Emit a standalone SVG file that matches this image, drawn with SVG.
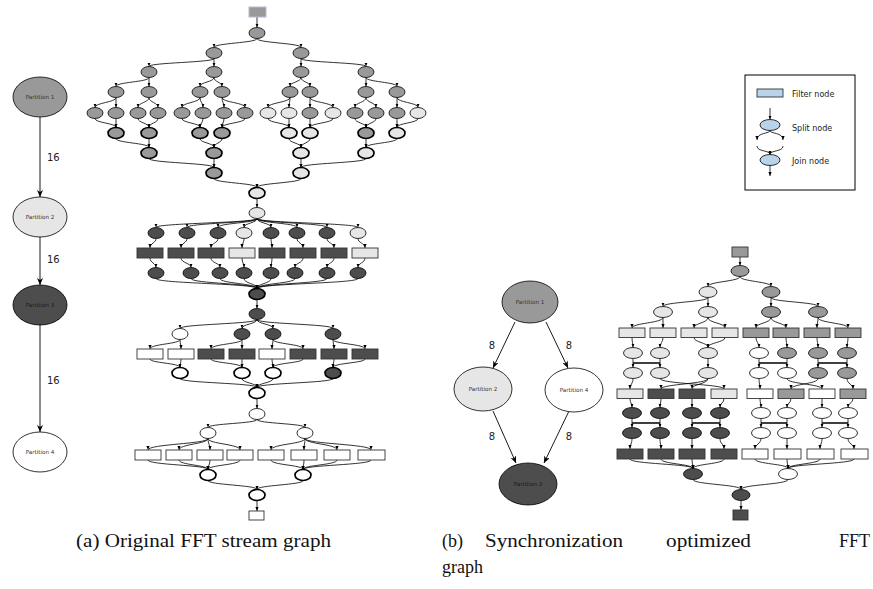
<svg xmlns="http://www.w3.org/2000/svg" width="873" height="589" viewBox="0 0 873 589">
<style>
.g{fill:#999}.l{fill:#e6e6e6}.d{fill:#4d4d4d}.w{fill:#fff}.b{fill:#b9d3ea}
ellipse{stroke:#000;stroke-width:0.8}
.t{stroke-width:1.7}
rect.f{stroke:#333;stroke-width:0.9}
.e path{fill:none;stroke:#000;stroke-width:0.8;marker-end:url(#ar)}
.bar{fill:none;stroke:#000;stroke-width:1.3}
.pe{fill:none;stroke:#000;stroke-width:0.9;marker-end:url(#pa)}
.pt{font-family:"DejaVu Sans",sans-serif;font-size:5.6px;fill:#333;text-anchor:middle}
.pd{fill:#1a1a1a}
.lab{font-family:"DejaVu Sans",sans-serif;font-size:10px;fill:#222}
.lg{font-family:"DejaVu Sans",sans-serif;font-size:8px;fill:#222}
.cap{font-family:"Liberation Serif","DejaVu Serif",serif;font-size:18px;fill:#111}
</style>
<defs>
<marker id="ar" markerUnits="userSpaceOnUse" markerWidth="4" markerHeight="4" viewBox="0 0 4 4" refX="4" refY="2" orient="auto"><path d="M0,0.4L4,2L0,3.6z" fill="#000"/></marker>
<marker id="pa" markerUnits="userSpaceOnUse" markerWidth="7" markerHeight="6" viewBox="0 0 7 6" refX="7" refY="3" orient="auto"><path d="M0,0L7,3L0,6L2,3z" fill="#000"/></marker>
</defs>

<!-- Partition graph (a) -->
<g id="pa-edges">
<path class="pe" d="M40 117V197"/>
<path class="pe" d="M40 237V285"/>
<path class="pe" d="M40 325V432"/>
<text class="lab" x="47" y="161">16</text>
<text class="lab" x="47" y="263">16</text>
<text class="lab" x="47" y="384">16</text>
</g>
<g id="pa-p1"><ellipse class="g" cx="40" cy="97" rx="27" ry="20"/><text class="pt" x="40" y="99">Partition 1</text></g>
<g id="pa-p2"><ellipse class="l" cx="40" cy="217" rx="27" ry="20"/><text class="pt" x="40" y="219">Partition 2</text></g>
<g id="pa-p3"><ellipse class="d" cx="40" cy="305" rx="27" ry="20"/><text class="pt pd" x="40" y="307">Partition 3</text></g>
<g id="pa-p4"><ellipse class="w" cx="40" cy="452" rx="27" ry="20"/><text class="pt" x="40" y="454">Partition 4</text></g>

<!-- Stream graph (a) connectors -->
<g id="a-edges" class="e">
<path d="M257 17V27.5"/>
<path d="M257 38.5C257 43 214 43 214 47.5"/>
<path d="M257 38.5C257 43 301 43 301 47.5"/>
<path d="M214 58.5C214 62.5 149 62.5 149 66.5"/>
<path d="M214 58.5V66.5"/>
<path d="M301 58.5V66.5"/>
<path d="M301 58.5C301 62.5 366 62.5 366 66.5"/>
<path d="M149 77.5C149 82 116 82 116 86.5"/>
<path d="M149 77.5V86.5"/>
<path d="M214 77.5C214 82 200 82 200 86.5"/>
<path d="M214 77.5C214 82 222 82 222 86.5"/>
<path d="M301 77.5C301 82 290 82 290 86.5"/>
<path d="M301 77.5C301 82 310 82 310 86.5"/>
<path d="M366 77.5V86.5"/>
<path d="M366 77.5C366 82 397 82 397 86.5"/>
<path d="M116 97.5C116 102.5 95 102.5 95 107.5"/>
<path d="M116 97.5V107.5"/>
<path d="M149 97.5C149 102.5 138 102.5 138 107.5"/>
<path d="M149 97.5C149 102.5 158 102.5 158 107.5"/>
<path d="M200 97.5C200 102.5 182 102.5 182 107.5"/>
<path d="M200 97.5C200 102.5 203 102.5 203 107.5"/>
<path d="M222 97.5C222 102.5 224 102.5 224 107.5"/>
<path d="M222 97.5C222 102.5 245 102.5 245 107.5"/>
<path d="M290 97.5C290 102.5 268 102.5 268 107.5"/>
<path d="M290 97.5C290 102.5 289 102.5 289 107.5"/>
<path d="M310 97.5V107.5"/>
<path d="M310 97.5C310 102.5 333 102.5 333 107.5"/>
<path d="M366 97.5C366 102.5 355 102.5 355 107.5"/>
<path d="M366 97.5C366 102.5 376 102.5 376 107.5"/>
<path d="M397 97.5V107.5"/>
<path d="M397 97.5C397 102.5 418 102.5 418 107.5"/>
<path d="M95 118.5C95 123 116 123 116 127.5"/>
<path d="M116 118.5V127.5"/>
<path d="M138 118.5C138 123 149 123 149 127.5"/>
<path d="M158 118.5C158 123 149 123 149 127.5"/>
<path d="M182 118.5C182 123 200 123 200 127.5"/>
<path d="M203 118.5C203 123 200 123 200 127.5"/>
<path d="M224 118.5C224 123 222 123 222 127.5"/>
<path d="M245 118.5C245 123 222 123 222 127.5"/>
<path d="M268 118.5C268 123 289 123 289 127.5"/>
<path d="M289 118.5V127.5"/>
<path d="M310 118.5V127.5"/>
<path d="M333 118.5C333 123 310 123 310 127.5"/>
<path d="M355 118.5C355 123 366 123 366 127.5"/>
<path d="M376 118.5C376 123 366 123 366 127.5"/>
<path d="M397 118.5V127.5"/>
<path d="M418 118.5C418 123 397 123 397 127.5"/>
<path d="M116 138.5C116 143 149 143 149 147.5"/>
<path d="M149 138.5V147.5"/>
<path d="M200 138.5C200 143 214 143 214 147.5"/>
<path d="M222 138.5C222 143 214 143 214 147.5"/>
<path d="M289 138.5C289 143 301 143 301 147.5"/>
<path d="M310 138.5C310 143 301 143 301 147.5"/>
<path d="M366 138.5V147.5"/>
<path d="M397 138.5C397 143 366 143 366 147.5"/>
<path d="M149 158.5C149 163 214 163 214 167.5"/>
<path d="M214 158.5V167.5"/>
<path d="M301 158.5V167.5"/>
<path d="M366 158.5C366 163 301 163 301 167.5"/>
<path d="M214 178.5C214 183 257 183 257 187.5"/>
<path d="M301 178.5C301 183 257 183 257 187.5"/>
<path d="M257 198.5V207.5"/>
<path d="M257 218.5C257 223 156 223 156 227.5"/>
<path d="M257 218.5C257 223 187 223 187 227.5"/>
<path d="M257 218.5C257 223 218 223 218 227.5"/>
<path d="M257 218.5C257 223 244 223 244 227.5"/>
<path d="M257 218.5C257 223 271 223 271 227.5"/>
<path d="M257 218.5C257 223 297 223 297 227.5"/>
<path d="M257 218.5C257 223 327 223 327 227.5"/>
<path d="M257 218.5C257 223 358 223 358 227.5"/>
<path d="M156 238.5C156 243 150 243 150 248"/>
<path d="M187 238.5C187 243 181 243 181 248"/>
<path d="M218 238.5C218 243 211 243 211 248"/>
<path d="M244 238.5C244 243 242 243 242 248"/>
<path d="M271 238.5C271 243 272 243 272 248"/>
<path d="M297 238.5C297 243 303 243 303 248"/>
<path d="M327 238.5C327 243 334 243 334 248"/>
<path d="M358 238.5C358 243 365 243 365 248"/>
<path d="M150 258C150 263 156 263 156 267.5"/>
<path d="M181 258C181 263 191 263 191 267.5"/>
<path d="M211 258C211 263 220 263 220 267.5"/>
<path d="M242 258C242 263 244 263 244 267.5"/>
<path d="M272 258C272 263 271 263 271 267.5"/>
<path d="M303 258C303 263 295 263 295 267.5"/>
<path d="M334 258C334 263 327 263 327 267.5"/>
<path d="M365 258C365 263 358 263 358 267.5"/>
<path d="M156 278.5C156 283.5 257 283.5 257 288.5"/>
<path d="M191 278.5C191 283.5 257 283.5 257 288.5"/>
<path d="M220 278.5C220 283.5 257 283.5 257 288.5"/>
<path d="M244 278.5C244 283.5 257 283.5 257 288.5"/>
<path d="M271 278.5C271 283.5 257 283.5 257 288.5"/>
<path d="M295 278.5C295 283.5 257 283.5 257 288.5"/>
<path d="M327 278.5C327 283.5 257 283.5 257 288.5"/>
<path d="M358 278.5C358 283.5 257 283.5 257 288.5"/>
<path d="M257 299.5V308.5"/>
<path d="M257 319.5C257 324 180 324 180 328.5"/>
<path d="M257 319.5C257 324 242 324 242 328.5"/>
<path d="M257 319.5C257 324 273 324 273 328.5"/>
<path d="M257 319.5C257 324 333 324 333 328.5"/>
<path d="M180 339.5C180 344 150 344 150 349"/>
<path d="M180 339.5C180 344 181 344 181 349"/>
<path d="M242 339.5C242 344 211 344 211 349"/>
<path d="M242 339.5V349"/>
<path d="M273 339.5C273 344 272 344 272 349"/>
<path d="M273 339.5C273 344 303 344 303 349"/>
<path d="M333 339.5C333 344 334 344 334 349"/>
<path d="M333 339.5C333 344 365 344 365 349"/>
<path d="M150 359C150 363 180 363 180 367.5"/>
<path d="M181 359C181 363 180 363 180 367.5"/>
<path d="M211 359C211 363 242 363 242 367.5"/>
<path d="M242 359V367.5"/>
<path d="M272 359C272 363 273 363 273 367.5"/>
<path d="M303 359C303 363 273 363 273 367.5"/>
<path d="M334 359C334 363 333 363 333 367.5"/>
<path d="M365 359C365 363 333 363 333 367.5"/>
<path d="M180 378.5C180 383 257 383 257 387.5"/>
<path d="M242 378.5C242 383 257 383 257 387.5"/>
<path d="M273 378.5C273 383 257 383 257 387.5"/>
<path d="M333 378.5C333 383 257 383 257 387.5"/>
<path d="M257 398.5V408.5"/>
<path d="M257 419.5C257 423.5 208 423.5 208 427.5"/>
<path d="M257 419.5C257 423.5 305 423.5 305 427.5"/>
<path d="M208 438.5C208 444 148 444 148 450"/>
<path d="M208 438.5C208 444 179 444 179 450"/>
<path d="M208 438.5C208 444 210 444 210 450"/>
<path d="M208 438.5C208 444 240 444 240 450"/>
<path d="M305 438.5C305 444 271 444 271 450"/>
<path d="M305 438.5C305 444 304 444 304 450"/>
<path d="M305 438.5C305 444 337 444 337 450"/>
<path d="M305 438.5C305 444 371 444 371 450"/>
<path d="M148 460C148 465 208 465 208 469.5"/>
<path d="M179 460C179 465 208 465 208 469.5"/>
<path d="M210 460C210 465 208 465 208 469.5"/>
<path d="M240 460C240 465 208 465 208 469.5"/>
<path d="M271 460C271 465 303 465 303 469.5"/>
<path d="M304 460C304 465 303 465 303 469.5"/>
<path d="M337 460C337 465 303 465 303 469.5"/>
<path d="M371 460C371 465 303 465 303 469.5"/>
<path d="M208 480.5C208 485 257 485 257 489.5"/>
<path d="M303 480.5C303 485 257 485 257 489.5"/>
<path d="M257 500.5V511"/>
</g>

<!-- Stream graph (a) nodes -->
<g id="a-src"><rect x="249" y="7" width="17" height="10" fill="#999" stroke="#c6b2d8" stroke-width="1"/></g>
<g id="a-s0"><ellipse class="g" cx="257" cy="33" rx="8" ry="5.5"/></g>
<g id="a-s1a"><ellipse class="g" cx="214" cy="53" rx="8" ry="5.5"/></g>
<g id="a-s1b"><ellipse class="g" cx="301" cy="53" rx="8" ry="5.5"/></g>
<g id="a-s2a"><ellipse class="g" cx="149" cy="72" rx="8" ry="5.5"/></g>
<g id="a-s2b"><ellipse class="g" cx="214" cy="72" rx="8" ry="5.5"/></g>
<g id="a-s2c"><ellipse class="g" cx="301" cy="72" rx="8" ry="5.5"/></g>
<g id="a-s2d"><ellipse class="g" cx="366" cy="72" rx="8" ry="5.5"/></g>
<g id="a-s3a"><ellipse class="g" cx="116" cy="92" rx="8" ry="5.5"/></g>
<g id="a-s3b"><ellipse class="g" cx="149" cy="92" rx="8" ry="5.5"/></g>
<g id="a-s3c"><ellipse class="g" cx="200" cy="92" rx="8" ry="5.5"/></g>
<g id="a-s3d"><ellipse class="g" cx="222" cy="92" rx="8" ry="5.5"/></g>
<g id="a-s3e"><ellipse class="g" cx="290" cy="92" rx="8" ry="5.5"/></g>
<g id="a-s3f"><ellipse class="g" cx="310" cy="92" rx="8" ry="5.5"/></g>
<g id="a-s3g"><ellipse class="g" cx="366" cy="92" rx="8" ry="5.5"/></g>
<g id="a-s3h"><ellipse class="g" cx="397" cy="92" rx="8" ry="5.5"/></g>
<g id="a-f4a"><ellipse class="g" cx="95" cy="113" rx="8" ry="5.5"/></g>
<g id="a-f4b"><ellipse class="g" cx="116" cy="113" rx="8" ry="5.5"/></g>
<g id="a-f4c"><ellipse class="g" cx="138" cy="113" rx="8" ry="5.5"/></g>
<g id="a-f4d"><ellipse class="g" cx="158" cy="113" rx="8" ry="5.5"/></g>
<g id="a-f4e"><ellipse class="g" cx="182" cy="113" rx="8" ry="5.5"/></g>
<g id="a-f4f"><ellipse class="g" cx="203" cy="113" rx="8" ry="5.5"/></g>
<g id="a-f4g"><ellipse class="g" cx="224" cy="113" rx="8" ry="5.5"/></g>
<g id="a-f4h"><ellipse class="g" cx="245" cy="113" rx="8" ry="5.5"/></g>
<g id="a-f4i"><ellipse class="l" cx="268" cy="113" rx="8" ry="5.5"/></g>
<g id="a-f4j"><ellipse class="l" cx="289" cy="113" rx="8" ry="5.5"/></g>
<g id="a-f4k"><ellipse class="g" cx="310" cy="113" rx="8" ry="5.5"/></g>
<g id="a-f4l"><ellipse class="l" cx="333" cy="113" rx="8" ry="5.5"/></g>
<g id="a-f4m"><ellipse class="g" cx="355" cy="113" rx="8" ry="5.5"/></g>
<g id="a-f4n"><ellipse class="g" cx="376" cy="113" rx="8" ry="5.5"/></g>
<g id="a-f4o"><ellipse class="g" cx="397" cy="113" rx="8" ry="5.5"/></g>
<g id="a-f4p"><ellipse class="l" cx="418" cy="113" rx="8" ry="5.5"/></g>
<g id="a-j5a"><ellipse class="g t" cx="116" cy="133" rx="8" ry="5.5"/></g>
<g id="a-j5b"><ellipse class="g t" cx="149" cy="133" rx="8" ry="5.5"/></g>
<g id="a-j5c"><ellipse class="g t" cx="200" cy="133" rx="8" ry="5.5"/></g>
<g id="a-j5d"><ellipse class="g t" cx="222" cy="133" rx="8" ry="5.5"/></g>
<g id="a-j5e"><ellipse class="l t" cx="289" cy="133" rx="8" ry="5.5"/></g>
<g id="a-j5f"><ellipse class="l t" cx="310" cy="133" rx="8" ry="5.5"/></g>
<g id="a-j5g"><ellipse class="g t" cx="366" cy="133" rx="8" ry="5.5"/></g>
<g id="a-j5h"><ellipse class="l t" cx="397" cy="133" rx="8" ry="5.5"/></g>
<g id="a-j6a"><ellipse class="g t" cx="149" cy="153" rx="8" ry="5.5"/></g>
<g id="a-j6b"><ellipse class="g t" cx="214" cy="153" rx="8" ry="5.5"/></g>
<g id="a-j6c"><ellipse class="l t" cx="301" cy="153" rx="8" ry="5.5"/></g>
<g id="a-j6d"><ellipse class="l t" cx="366" cy="153" rx="8" ry="5.5"/></g>
<g id="a-j7a"><ellipse class="g t" cx="214" cy="173" rx="8" ry="5.5"/></g>
<g id="a-j7b"><ellipse class="l t" cx="301" cy="173" rx="8" ry="5.5"/></g>
<g id="a-j8"><ellipse class="l t" cx="257" cy="193" rx="8" ry="5.5"/></g>
<g id="a-s9"><ellipse class="l" cx="257" cy="213" rx="8" ry="5.5"/></g>
<g id="a-e1a"><ellipse class="d" cx="156" cy="233" rx="8" ry="5.5"/></g>
<g id="a-e1b"><ellipse class="d" cx="187" cy="233" rx="8" ry="5.5"/></g>
<g id="a-e1c"><ellipse class="d" cx="218" cy="233" rx="8" ry="5.5"/></g>
<g id="a-e1d"><ellipse class="l" cx="244" cy="233" rx="8" ry="5.5"/></g>
<g id="a-e1e"><ellipse class="d" cx="271" cy="233" rx="8" ry="5.5"/></g>
<g id="a-e1f"><ellipse class="d" cx="297" cy="233" rx="8" ry="5.5"/></g>
<g id="a-e1g"><ellipse class="d" cx="327" cy="233" rx="8" ry="5.5"/></g>
<g id="a-e1h"><ellipse class="l" cx="358" cy="233" rx="8" ry="5.5"/></g>
<g id="a-r1a"><rect class="f d" x="137" y="248" width="26" height="10"/></g>
<g id="a-r1b"><rect class="f d" x="168" y="248" width="26" height="10"/></g>
<g id="a-r1c"><rect class="f d" x="198" y="248" width="26" height="10"/></g>
<g id="a-r1d"><rect class="f l" x="229" y="248" width="26" height="10"/></g>
<g id="a-r1e"><rect class="f d" x="259" y="248" width="26" height="10"/></g>
<g id="a-r1f"><rect class="f d" x="290" y="248" width="26" height="10"/></g>
<g id="a-r1g"><rect class="f d" x="321" y="248" width="26" height="10"/></g>
<g id="a-r1h"><rect class="f l" x="352" y="248" width="26" height="10"/></g>
<g id="a-e2a"><ellipse class="d" cx="156" cy="273" rx="8" ry="5.5"/></g>
<g id="a-e2b"><ellipse class="d" cx="191" cy="273" rx="8" ry="5.5"/></g>
<g id="a-e2c"><ellipse class="d" cx="220" cy="273" rx="8" ry="5.5"/></g>
<g id="a-e2d"><ellipse class="d" cx="244" cy="273" rx="8" ry="5.5"/></g>
<g id="a-e2e"><ellipse class="d" cx="271" cy="273" rx="8" ry="5.5"/></g>
<g id="a-e2f"><ellipse class="d" cx="295" cy="273" rx="8" ry="5.5"/></g>
<g id="a-e2g"><ellipse class="d" cx="327" cy="273" rx="8" ry="5.5"/></g>
<g id="a-e2h"><ellipse class="d" cx="358" cy="273" rx="8" ry="5.5"/></g>
<g id="a-j10"><ellipse class="d t" cx="257" cy="294" rx="8" ry="5.5"/></g>
<g id="a-s11"><ellipse class="d" cx="257" cy="314" rx="8" ry="5.5"/></g>
<g id="a-f1"><ellipse class="w" cx="180" cy="334" rx="8" ry="5.5"/></g>
<g id="a-f2"><ellipse class="d" cx="242" cy="334" rx="8" ry="5.5"/></g>
<g id="a-f3"><ellipse class="d" cx="273" cy="334" rx="8" ry="5.5"/></g>
<g id="a-f4"><ellipse class="d" cx="333" cy="334" rx="8" ry="5.5"/></g>
<g id="a-r2a"><rect class="f w" x="137" y="349" width="26" height="10"/></g>
<g id="a-r2b"><rect class="f w" x="168" y="349" width="26" height="10"/></g>
<g id="a-r2c"><rect class="f d" x="198" y="349" width="26" height="10"/></g>
<g id="a-r2d"><rect class="f d" x="229" y="349" width="26" height="10"/></g>
<g id="a-r2e"><rect class="f w" x="259" y="349" width="26" height="10"/></g>
<g id="a-r2f"><rect class="f d" x="290" y="349" width="26" height="10"/></g>
<g id="a-r2g"><rect class="f d" x="321" y="349" width="26" height="10"/></g>
<g id="a-r2h"><rect class="f d" x="352" y="349" width="26" height="10"/></g>
<g id="a-g1"><ellipse class="w t" cx="180" cy="373" rx="8" ry="5.5"/></g>
<g id="a-g2"><ellipse class="w t" cx="242" cy="373" rx="8" ry="5.5"/></g>
<g id="a-g3"><ellipse class="w t" cx="273" cy="373" rx="8" ry="5.5"/></g>
<g id="a-g4"><ellipse class="d t" cx="333" cy="373" rx="8" ry="5.5"/></g>
<g id="a-j12"><ellipse class="w t" cx="257" cy="393" rx="8" ry="5.5"/></g>
<g id="a-s13"><ellipse class="w" cx="257" cy="414" rx="8" ry="5.5"/></g>
<g id="a-h1"><ellipse class="w" cx="208" cy="433" rx="8" ry="5.5"/></g>
<g id="a-h2"><ellipse class="w" cx="305" cy="433" rx="8" ry="5.5"/></g>
<g id="a-r3a"><rect class="f w" x="135" y="450" width="26" height="10"/></g>
<g id="a-r3b"><rect class="f w" x="166" y="450" width="26" height="10"/></g>
<g id="a-r3c"><rect class="f w" x="197" y="450" width="26" height="10"/></g>
<g id="a-r3d"><rect class="f w" x="227" y="450" width="26" height="10"/></g>
<g id="a-r3e"><rect class="f w" x="258" y="450" width="26" height="10"/></g>
<g id="a-r3f"><rect class="f w" x="291" y="450" width="26" height="10"/></g>
<g id="a-r3g"><rect class="f w" x="324" y="450" width="26" height="10"/></g>
<g id="a-r3h"><rect class="f w" x="358" y="450" width="27" height="10"/></g>
<g id="a-k1"><ellipse class="w t" cx="208" cy="475" rx="8" ry="5.5"/></g>
<g id="a-k2"><ellipse class="w t" cx="303" cy="475" rx="8" ry="5.5"/></g>
<g id="a-j14"><ellipse class="w t" cx="257" cy="495" rx="8" ry="5.5"/></g>
<g id="a-sink"><rect class="f w" x="249" y="511" width="15" height="9"/></g>

<!-- Legend -->
<g id="legend">
<rect x="745" y="75" width="110" height="115" fill="#fff" stroke="#000" stroke-width="1"/>
<rect class="b" x="757" y="89" width="26" height="8" stroke="#333" stroke-width="0.9"/>
<text class="lg" x="792" y="97">Filter node</text>
<g class="e">
<path d="M770 108V119.5"/>
<path d="M770 130.5C770 134 757 132 757 140"/>
<path d="M770 130.5C770 134 783 132 783 140"/>
<path d="M757 146C757 152 770 150 770 154.5"/>
<path d="M783 146C783 152 770 150 770 154.5"/>
<path d="M770 165.5V176"/>
</g>
<ellipse class="b" cx="770" cy="125" rx="10" ry="5.5"/>
<text class="lg" x="792" y="131">Split node</text>
<ellipse class="b" cx="770" cy="160" rx="10" ry="5.5"/>
<text class="lg" x="792" y="164">Join node</text>
</g>

<!-- Partition graph (b) -->
<g id="pb-edges">
<path class="pe" d="M515 322L493 368"/>
<path class="pe" d="M546 322L568 368"/>
<path class="pe" d="M493 411L516 463"/>
<path class="pe" d="M569 411L544 463"/>
<text class="lab" x="492" y="349" text-anchor="middle">8</text>
<text class="lab" x="569" y="349" text-anchor="middle">8</text>
<text class="lab" x="492" y="440" text-anchor="middle">8</text>
<text class="lab" x="569" y="440" text-anchor="middle">8</text>
</g>
<g id="pb-p1"><ellipse class="g" cx="530" cy="302" rx="28" ry="21"/><text class="pt" x="530" y="304">Partition 1</text></g>
<g id="pb-p2"><ellipse class="l" cx="483" cy="389" rx="29" ry="22"/><text class="pt" x="483" y="391">Partition 2</text></g>
<g id="pb-p4"><ellipse class="w" cx="574" cy="390" rx="29" ry="22"/><text class="pt" x="574" y="392">Partition 4</text></g>
<g id="pb-p3"><ellipse class="d" cx="528" cy="484" rx="29" ry="21"/><text class="pt pd" x="528" y="486">Partition 3</text></g>

<!-- Stream graph (b) connectors -->
<g id="b-edges" class="e">
<path d="M740 257V265.5"/>
<path d="M740 276.5C740 281.5 708 281.5 708 286.5"/>
<path d="M740 276.5C740 281.5 771 281.5 771 286.5"/>
<path d="M708 297.5C708 302 663 302 663 306.5"/>
<path d="M708 297.5V306.5"/>
<path d="M771 297.5V306.5"/>
<path d="M771 297.5C771 302 818 302 818 306.5"/>
<path d="M663 317.5C663 323 632 323 632 328"/>
<path d="M663 317.5V328"/>
<path d="M708 317.5C708 323 694 323 694 328"/>
<path d="M708 317.5C708 323 725 323 725 328"/>
<path d="M771 317.5C771 323 756 323 756 328"/>
<path d="M771 317.5C771 323 786 323 786 328"/>
<path d="M818 317.5C818 323 817 323 817 328"/>
<path d="M818 317.5C818 323 848 323 848 328"/>
<path d="M632 337.5C632 342.5 633 342.5 633 347.5"/>
<path d="M663 337.5C663 342.5 660 342.5 660 347.5"/>
<path d="M694 337.5C694 342.5 708 342.5 708 347.5"/>
<path d="M725 337.5C725 342.5 708 342.5 708 347.5"/>
<path d="M756 337.5C756 342.5 759 342.5 759 347.5"/>
<path d="M786 337.5C786 342.5 787 342.5 787 347.5"/>
<path d="M817 337.5C817 342.5 818 342.5 818 347.5"/>
<path d="M848 337.5C848 342.5 847 342.5 847 347.5"/>
<path d="M633 358.5V367.5"/>
<path d="M660 358.5V367.5"/>
<path d="M708 358.5V367.5"/>
<path d="M759 358.5V367.5"/>
<path d="M787 358.5V367.5"/>
<path d="M818 358.5V367.5"/>
<path d="M847 358.5V367.5"/>
<path d="M633 378.5C633 384 630 384 630 389"/>
<path d="M660 378.5C660 384 724 384 724 389"/>
<path d="M708 378.5C708 384 661 384 661 389"/>
<path d="M708 378.5C708 384 692 384 692 389"/>
<path d="M759 378.5C759 384 760 384 760 389"/>
<path d="M787 378.5C787 384 822 384 822 389"/>
<path d="M818 378.5C818 384 791 384 791 389"/>
<path d="M847 378.5C847 384 853 384 853 389"/>
<path d="M630 398.5C630 403 632 403 632 407.5"/>
<path d="M661 398.5C661 403 660 403 660 407.5"/>
<path d="M692 398.5V407.5"/>
<path d="M724 398.5C724 403 720 403 720 407.5"/>
<path d="M760 398.5C760 403 761 403 761 407.5"/>
<path d="M791 398.5C791 403 787 403 787 407.5"/>
<path d="M822 398.5V407.5"/>
<path d="M853 398.5C853 403 848 403 848 407.5"/>
<path d="M632 418.5V427.5"/>
<path d="M660 418.5V427.5"/>
<path d="M692 418.5V427.5"/>
<path d="M720 418.5V427.5"/>
<path d="M761 418.5V427.5"/>
<path d="M787 418.5V427.5"/>
<path d="M822 418.5V427.5"/>
<path d="M848 418.5V427.5"/>
<path d="M632 438.5C632 444 630 444 630 449"/>
<path d="M660 438.5C660 444 661 444 661 449"/>
<path d="M692 438.5V449"/>
<path d="M720 438.5C720 444 724 444 724 449"/>
<path d="M761 438.5C761 444 755 444 755 449"/>
<path d="M787 438.5V449"/>
<path d="M822 438.5C822 444 820 444 820 449"/>
<path d="M848 438.5C848 444 854 444 854 449"/>
<path d="M630 459C630 464 693 464 693 468.5"/>
<path d="M661 459C661 464 693 464 693 468.5"/>
<path d="M692 459C692 464 693 464 693 468.5"/>
<path d="M724 459C724 464 693 464 693 468.5"/>
<path d="M755 459C755 464 788 464 788 468.5"/>
<path d="M787 459C787 464 788 464 788 468.5"/>
<path d="M820 459C820 464 788 464 788 468.5"/>
<path d="M854 459C854 464 788 464 788 468.5"/>
<path d="M693 479.5C693 484.5 741 484.5 741 489.5"/>
<path d="M788 479.5C788 484.5 741 484.5 741 489.5"/>
<path d="M741 500.5V510"/>
</g>
<g id="b-bars">
<path class="bar" d="M633 363H660M759 363H787M818 363H847"/>
<path class="bar" d="M632 423H660M692 423H720M761 423H787M822 423H848"/>
</g>

<!-- Stream graph (b) nodes -->
<g id="b-src"><rect class="f g" x="732" y="247" width="16" height="10"/></g>
<g id="b-s0"><ellipse class="g" cx="740" cy="271" rx="9" ry="5.5"/></g>
<g id="b-s1a"><ellipse class="l" cx="708" cy="292" rx="9" ry="5.5"/></g>
<g id="b-s1b"><ellipse class="g" cx="771" cy="292" rx="9" ry="5.5"/></g>
<g id="b-s2a"><ellipse class="l" cx="663" cy="312" rx="9.5" ry="5.5"/></g>
<g id="b-s2b"><ellipse class="l" cx="708" cy="312" rx="9.5" ry="5.5"/></g>
<g id="b-s2c"><ellipse class="g" cx="771" cy="312" rx="9.5" ry="5.5"/></g>
<g id="b-s2d"><ellipse class="g" cx="818" cy="312" rx="9.5" ry="5.5"/></g>
<g id="b-ra1"><rect class="f l" x="619" y="328" width="26" height="9.5"/></g>
<g id="b-ra2"><rect class="f l" x="650" y="328" width="26" height="9.5"/></g>
<g id="b-ra3"><rect class="f l" x="681" y="328" width="26" height="9.5"/></g>
<g id="b-ra4"><rect class="f l" x="712" y="328" width="26" height="9.5"/></g>
<g id="b-ra5"><rect class="f g" x="743" y="328" width="26" height="9.5"/></g>
<g id="b-ra6"><rect class="f g" x="773" y="328" width="26" height="9.5"/></g>
<g id="b-ra7"><rect class="f g" x="804" y="328" width="26" height="9.5"/></g>
<g id="b-ra8"><rect class="f g" x="835" y="328" width="26" height="9.5"/></g>
<g id="b-b1"><ellipse class="l" cx="633" cy="353" rx="9.5" ry="5.5"/></g>
<g id="b-b2"><ellipse class="l" cx="660" cy="353" rx="9.5" ry="5.5"/></g>
<g id="b-b3"><ellipse class="l" cx="708" cy="353" rx="9.5" ry="5.5"/></g>
<g id="b-b4"><ellipse class="w" cx="759" cy="353" rx="9.5" ry="5.5"/></g>
<g id="b-b5"><ellipse class="g" cx="787" cy="353" rx="9.5" ry="5.5"/></g>
<g id="b-b6"><ellipse class="g" cx="818" cy="353" rx="9.5" ry="5.5"/></g>
<g id="b-b7"><ellipse class="g" cx="847" cy="353" rx="9.5" ry="5.5"/></g>
<g id="b-c1"><ellipse class="l" cx="633" cy="373" rx="9.5" ry="5.5"/></g>
<g id="b-c2"><ellipse class="l" cx="660" cy="373" rx="9.5" ry="5.5"/></g>
<g id="b-c3"><ellipse class="l" cx="708" cy="373" rx="9.5" ry="5.5"/></g>
<g id="b-c4"><ellipse class="w" cx="759" cy="373" rx="9.5" ry="5.5"/></g>
<g id="b-c5"><ellipse class="w" cx="787" cy="373" rx="9.5" ry="5.5"/></g>
<g id="b-c6"><ellipse class="g" cx="818" cy="373" rx="9.5" ry="5.5"/></g>
<g id="b-c7"><ellipse class="g" cx="847" cy="373" rx="9.5" ry="5.5"/></g>
<g id="b-rd1"><rect class="f l" x="617" y="389" width="26" height="9.5"/></g>
<g id="b-rd2"><rect class="f d" x="648" y="389" width="26" height="9.5"/></g>
<g id="b-rd3"><rect class="f d" x="679" y="389" width="26" height="9.5"/></g>
<g id="b-rd4"><rect class="f l" x="711" y="389" width="26" height="9.5"/></g>
<g id="b-rd5"><rect class="f w" x="747" y="389" width="26" height="9.5"/></g>
<g id="b-rd6"><rect class="f g" x="778" y="389" width="26" height="9.5"/></g>
<g id="b-rd7"><rect class="f w" x="809" y="389" width="26" height="9.5"/></g>
<g id="b-rd8"><rect class="f g" x="840" y="389" width="26" height="9.5"/></g>
<g id="b-e1"><ellipse class="d" cx="632" cy="413" rx="9.5" ry="5.5"/></g>
<g id="b-e2"><ellipse class="d" cx="660" cy="413" rx="9.5" ry="5.5"/></g>
<g id="b-e3"><ellipse class="d" cx="692" cy="413" rx="9.5" ry="5.5"/></g>
<g id="b-e4"><ellipse class="d" cx="720" cy="413" rx="9.5" ry="5.5"/></g>
<g id="b-e5"><ellipse class="w" cx="761" cy="413" rx="9.5" ry="5.5"/></g>
<g id="b-e6"><ellipse class="w" cx="787" cy="413" rx="9.5" ry="5.5"/></g>
<g id="b-e7"><ellipse class="w" cx="822" cy="413" rx="9.5" ry="5.5"/></g>
<g id="b-e8"><ellipse class="w" cx="848" cy="413" rx="9.5" ry="5.5"/></g>
<g id="b-f1"><ellipse class="d" cx="632" cy="433" rx="9.5" ry="5.5"/></g>
<g id="b-f2"><ellipse class="d" cx="660" cy="433" rx="9.5" ry="5.5"/></g>
<g id="b-f3"><ellipse class="d" cx="692" cy="433" rx="9.5" ry="5.5"/></g>
<g id="b-f4"><ellipse class="d" cx="720" cy="433" rx="9.5" ry="5.5"/></g>
<g id="b-f5"><ellipse class="w" cx="761" cy="433" rx="9.5" ry="5.5"/></g>
<g id="b-f6"><ellipse class="w" cx="787" cy="433" rx="9.5" ry="5.5"/></g>
<g id="b-f7"><ellipse class="w" cx="822" cy="433" rx="9.5" ry="5.5"/></g>
<g id="b-f8"><ellipse class="w" cx="848" cy="433" rx="9.5" ry="5.5"/></g>
<g id="b-rg1"><rect class="f d" x="617" y="449" width="26" height="10"/></g>
<g id="b-rg2"><rect class="f d" x="648" y="449" width="26" height="10"/></g>
<g id="b-rg3"><rect class="f d" x="679" y="449" width="26" height="10"/></g>
<g id="b-rg4"><rect class="f d" x="711" y="449" width="26" height="10"/></g>
<g id="b-rg5"><rect class="f w" x="742" y="449" width="26" height="10"/></g>
<g id="b-rg6"><rect class="f w" x="774" y="449" width="27" height="10"/></g>
<g id="b-rg7"><rect class="f w" x="807" y="449" width="27" height="10"/></g>
<g id="b-rg8"><rect class="f w" x="841" y="449" width="27" height="10"/></g>
<g id="b-h1"><ellipse class="d" cx="693" cy="474" rx="9.5" ry="5.5"/></g>
<g id="b-h2"><ellipse class="w" cx="788" cy="474" rx="9.5" ry="5.5"/></g>
<g id="b-j"><ellipse class="d" cx="741" cy="495" rx="9" ry="5.5"/></g>
<g id="b-sink"><rect class="f d" x="733" y="510" width="15" height="10"/></g>

<!-- Captions -->
<g id="captions">
<text class="cap" x="76" y="547" textLength="255" lengthAdjust="spacingAndGlyphs">(a) Original FFT stream graph</text>
<text class="cap" x="442" y="547">(b)</text>
<text class="cap" x="485" y="547" textLength="138" lengthAdjust="spacingAndGlyphs">Synchronization</text>
<text class="cap" x="666" y="547" textLength="85" lengthAdjust="spacingAndGlyphs">optimized</text>
<text class="cap" x="839" y="547">FFT</text>
<text class="cap" x="442" y="573">graph</text>
</g>
</svg>
